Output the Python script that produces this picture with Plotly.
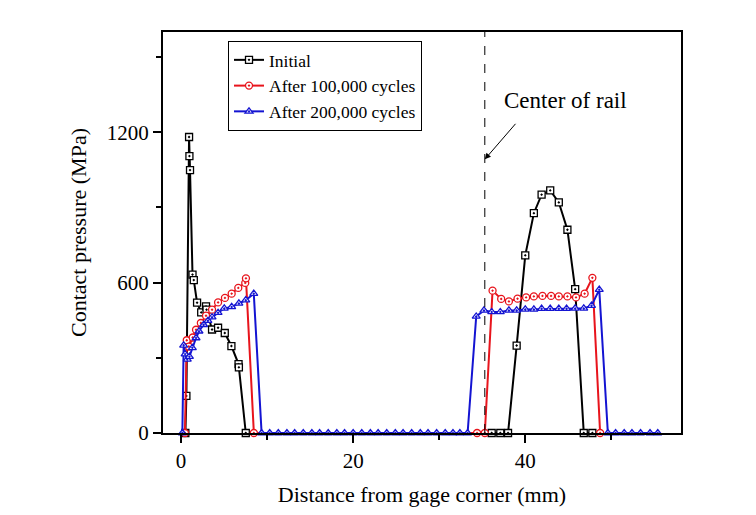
import plotly.graph_objects as go

# ---- data ----
init_x = [0.5, 0.62, 0.93, 0.97, 1.04, 1.33, 1.48, 1.86, 2.34, 2.9, 2.96, 3.6, 4.3, 5.08, 5.85,
          6.68, 6.72, 7.52, 36.1, 37.1, 38.0, 39.0, 40.0, 41.0, 41.9, 42.9, 43.9, 44.9, 45.8,
          46.8, 47.8]
init_y = [0, 148, 1181, 1105, 1049, 632, 610, 520, 481, 505, 492, 413, 420, 399, 347,
          275, 262, 0, 0, 0, 0, 349, 709, 877, 951, 968, 920, 811, 574,
          0, 0]

c100_x = [0.45, 0.66, 0.9, 1.35, 1.74, 2.3, 2.9, 3.6, 4.3, 5.1, 5.88, 6.65, 7.46, 7.54, 8.46,
          34.4, 35.3, 36.2, 37.2, 38.1, 39.1, 40.1, 41.0, 42.0, 43.0, 43.9, 44.9, 45.9, 46.9,
          47.8, 48.7]
c100_y = [0, 370, 345, 381, 412, 439, 468, 492, 521, 539, 556, 579, 599, 617, 0,
          0, 0, 568, 535, 525, 536, 541, 545, 547, 547, 545, 545, 541, 556,
          619, 0]

c200_x = [0.15, 0.3, 0.47, 0.72, 0.97, 1.31, 1.74, 2.08, 2.62, 3.12, 3.6, 4.3, 5.02, 5.88,
          6.72, 7.52, 8.45, 9.36, 10.3, 11.3, 12.3, 13.2, 14.2, 15.2, 16.1, 17.1, 18.1, 19.0,
          20.0, 21.0, 22.0, 22.9, 23.9, 24.9, 25.8, 26.8, 27.8, 28.7, 29.7, 30.7, 31.6, 32.4,
          33.3, 34.3, 35.2, 36.1, 37.1, 38.1, 39.0, 40.0, 41.0, 41.9, 42.9, 43.9, 44.8, 45.8,
          46.8, 47.7, 48.6, 49.6, 50.5, 51.5, 52.4, 53.4, 54.5, 55.4]
c200_y = [0, 350, 315, 294, 305, 340, 379, 406, 432, 448, 462, 480, 497, 503,
          517, 530, 556, 0, 0, 0, 0, 0, 0, 0, 0, 0, 0, 0,
          0, 0, 0, 0, 0, 0, 0, 0, 0, 0, 0, 0, 0, 0,
          0, 465, 489, 483, 483, 489, 489, 493, 493, 496, 496, 496, 496, 497,
          497, 508, 572, 0, 0, 0, 0, 0, 0, 0]

series_names = ["Initial", "After 100,000 cycles", "After 200,000 cycles"]
series_colors = ["#000000", "#e8141c", "#1414d2"]
series_symbols = ["square-dot", "circle-dot", "triangle-up-dot"]
center_x = 35.3
center_label = "Center of rail"

FONT = "Liberation Serif"

fig = go.Figure()
for (xs, ys), name, col, sym in zip(
        [(init_x, init_y), (c100_x, c100_y), (c200_x, c200_y)],
        series_names, series_colors, series_symbols):
    fig.add_trace(go.Scatter(
        x=xs, y=ys, name=name, mode="lines+markers",
        line=dict(color=col, width=2),
        marker=dict(symbol=sym, size=7, color="white",
                    line=dict(color=col, width=1.3)),
        cliponaxis=False,
    ))

fig.add_shape(type="line", x0=center_x, x1=center_x, y0=0, y1=1600,
              xref="x", yref="y", line=dict(color="black", width=1, dash="dash"))

# arrow
fig.add_annotation(x=center_x, y=1092, xref="x", yref="y",
                   ax=32, ay=-37, axref="pixel", ayref="pixel",
                   text="", showarrow=True, arrowhead=2, arrowsize=1.2,
                   arrowwidth=1, arrowcolor="black")
fig.add_annotation(x=(565 - 163) / 518, y=(433 - 100) / 401, xref="paper", yref="paper",
                   text=center_label, showarrow=False,
                   font=dict(family=FONT, size=23, color="black"),
                   xanchor="center", yanchor="middle")

# page body has an 8px margin, so offset the figure accordingly
fig.update_layout(
    width=748, height=507,
    margin=dict(l=155, r=75, t=24, b=82),
    paper_bgcolor="white", plot_bgcolor="white",
    font=dict(family=FONT, color="black"),
    showlegend=True,
    legend=dict(x=0.1255, y=0.9776, xanchor="left", yanchor="top",
                bordercolor="black", borderwidth=1, bgcolor="white",
                font=dict(family=FONT, size=17.5, color="black"),
                tracegroupgap=0, itemwidth=30),
)
fig.update_xaxes(
    range=[-2.1, 58.1], showgrid=False, zeroline=False,
    showline=True, linecolor="black", linewidth=2, mirror=True,
    ticks="outside", ticklen=8, tickwidth=2, tickcolor="black",
    tick0=0, dtick=20,
    minor=dict(ticks="outside", ticklen=5, tickwidth=2, tickcolor="black", dtick=10, tick0=0),
    tickfont=dict(family=FONT, size=21, color="black"),
    title=dict(text="Distance from gage corner (mm)", font=dict(family=FONT, size=22, color="black"), standoff=14),
)
fig.update_yaxes(
    range=[0, 1600], showgrid=False, zeroline=False,
    showline=True, linecolor="black", linewidth=2, mirror=True,
    ticks="outside", ticklen=8, tickwidth=2, tickcolor="black",
    tick0=0, dtick=600,
    minor=dict(ticks="outside", ticklen=5, tickwidth=2, tickcolor="black", dtick=300, tick0=0),
    tickfont=dict(family=FONT, size=21, color="black"),
    title=dict(text="Contact pressure (MPa)", font=dict(family=FONT, size=22, color="black"), standoff=14),
)

fig.write_html("out.html")
